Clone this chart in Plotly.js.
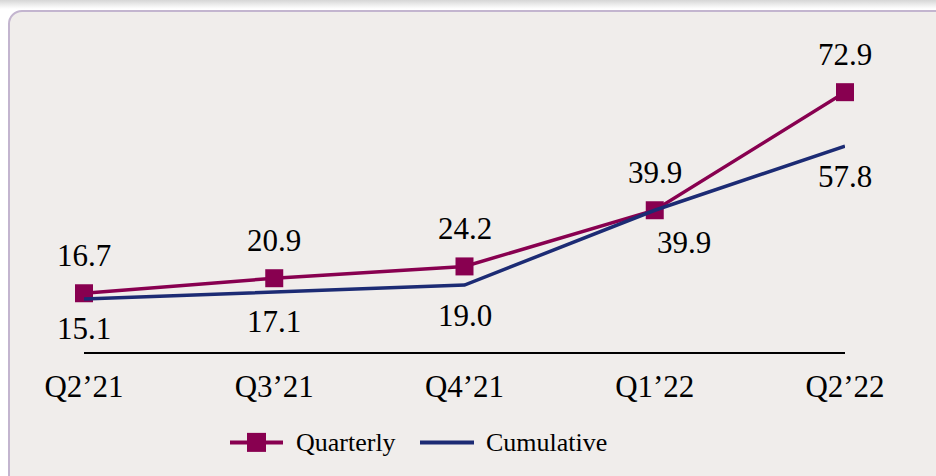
<!DOCTYPE html>
<html>
<head>
<meta charset="utf-8">
<script src="https://cdn.plot.ly/plotly-3.0.1.min.js"></script>
<style>
  html, body { margin: 0; padding: 0; width: 936px; height: 476px; overflow: hidden; background: #ffffff; }
  #shadow { position: absolute; left: 0; top: 0; width: 936px; height: 9px;
            background: linear-gradient(#d6d6d6, #f4f4f4 70%, #ffffff); }
  #frame { position: absolute; left: 8px; top: 10px; width: 1000px; height: 520px;
           background: #f0edeb; border: 2px solid #c3b5cf; border-radius: 14px; box-sizing: border-box; }
  #chart { position: absolute; left: 0; top: 0; width: 936px; height: 476px; }
</style>
</head>
<body>
<div id="shadow"></div>
<div id="frame"></div>
<div id="chart"></div>
<script>
const categories = ["Q2\u201921", "Q3\u201921", "Q4\u201921", "Q1\u201922", "Q2\u201922"];
const quarterly = [16.7, 20.9, 24.2, 39.9, 72.9];
const cumulative = [15.1, 17.1, 19.0, 39.9, 57.8];
const seriesNames = ["Quarterly", "Cumulative"];

const maroon = "#880050";
const navy = "#1c2b74";
const fontFam = "Liberation Serif, Times New Roman, serif";

const traces = [
  { x: categories, y: quarterly, name: seriesNames[0], type: "scatter", mode: "lines+markers",
    line: { color: maroon, width: 3.5 }, cliponaxis: false,
    marker: { symbol: "square", size: 18, color: maroon } },
  { x: categories, y: cumulative, name: seriesNames[1], type: "scatter", mode: "lines",
    line: { color: navy, width: 3.5 }, cliponaxis: false }
];

const annotations = [];
categories.forEach((c, i) => {
  annotations.push({ x: c, y: quarterly[i], text: quarterly[i].toFixed(1), showarrow: false,
    yshift: 38, xshift: 0, font: { size: 31, color: "#000", family: fontFam } });
  const shiftX = (i === 3) ? 29 : 0;
  const shiftY = (i === 3) ? -32 : -30;
  annotations.push({ x: c, y: cumulative[i], text: cumulative[i].toFixed(1), showarrow: false,
    yshift: shiftY, xshift: shiftX, font: { size: 31, color: "#000", family: fontFam } });
});

// Custom legend (paper coordinates derived from pixel layout)
const W = 936, H = 476, mL = 84, mR = 91, mT = 31, mB = 123.3;
const pw = W - mL - mR, ph = H - mT - mB;
const px = v => (v - mL) / pw;
const py = v => (H - mB - v) / ph;
const legY = 442;
const shapes = [
  { type: "line", xref: "paper", yref: "paper", x0: px(230), x1: px(283), y0: py(legY), y1: py(legY),
    line: { color: maroon, width: 4 } },
  { type: "rect", xref: "paper", yref: "paper", x0: px(247), x1: px(266), y0: py(legY - 9.5), y1: py(legY + 9.5),
    fillcolor: maroon, line: { width: 0 } },
  { type: "line", xref: "paper", yref: "paper", x0: px(420), x1: px(474), y0: py(legY), y1: py(legY),
    line: { color: navy, width: 4 } }
];
annotations.push({ xref: "paper", yref: "paper", x: px(294), y: py(legY), xanchor: "left", yanchor: "middle",
  text: seriesNames[0], showarrow: false, font: { size: 26, family: fontFam, color: "#000" } });
annotations.push({ xref: "paper", yref: "paper", x: px(484), y: py(legY), xanchor: "left", yanchor: "middle",
  text: seriesNames[1], showarrow: false, font: { size: 26, family: fontFam, color: "#000" } });

const layout = {
  width: W, height: H,
  margin: { l: mL, r: mR, t: mT, b: mB },
  paper_bgcolor: "rgba(0,0,0,0)",
  plot_bgcolor: "rgba(0,0,0,0)",
  font: { family: fontFam, color: "#000", size: 26 },
  xaxis: { type: "category", range: [0, 4], showgrid: false, zeroline: false,
           showline: false, ticks: "", ticklabelstandoff: 12,
           tickfont: { size: 31, family: fontFam, color: "#000" }, fixedrange: true },
  yaxis: { range: [0, 90], showgrid: false, zeroline: true, zerolinecolor: "#000", zerolinewidth: 2,
           showticklabels: false, ticks: "", showline: false, fixedrange: true },
  showlegend: false,
  shapes: shapes,
  annotations: annotations
};

Plotly.newPlot("chart", traces, layout, { displayModeBar: false, staticPlot: true });
</script>
</body>
</html>
